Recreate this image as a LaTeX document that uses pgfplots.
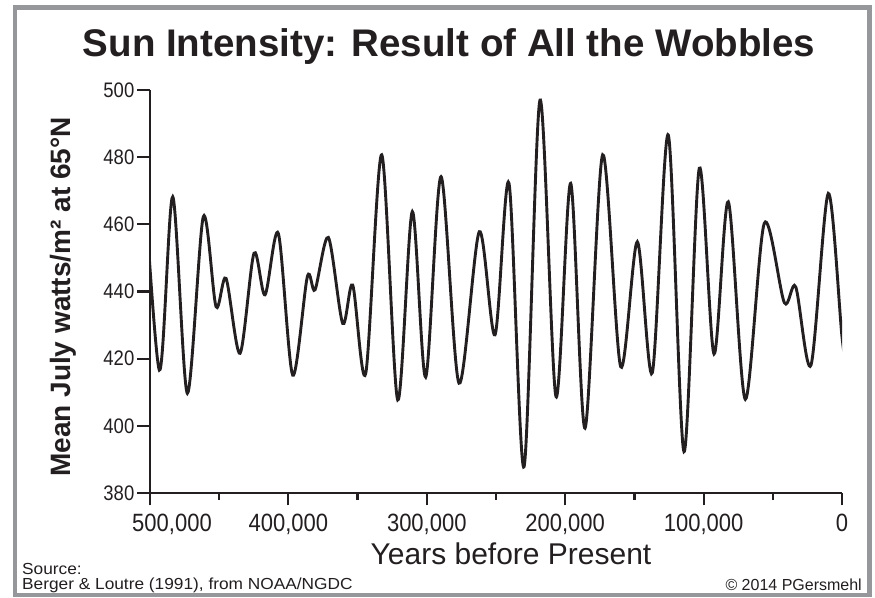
\documentclass[border=0pt]{standalone}
\usepackage{pgfplots}
\pgfplotsset{compat=1.18}
\usepackage{fontspec}
\setmainfont{Liberation Sans}
\newfontfamily\ticknarrow[FakeStretch=0.88]{Liberation Sans}
\newfontfamily\srcwide[FakeStretch=1.08]{Liberation Sans}
\definecolor{framegray}{RGB}{150,151,155}
\definecolor{ink}{RGB}{35,31,32}
\begin{document}
\begin{tikzpicture}[x=1bp,y=1bp]
\useasboundingbox (0,0) rectangle (875,598);
\fill[white] (0,0) rectangle (875,598);
\draw[framegray, line width=4.6bp] (15,590.5) rectangle (869.5,3);
\begin{axis}[
  at={(150bp,105bp)}, anchor=south west,
  scale only axis, width=692bp, height=403bp,
  xmin=0, xmax=500000, x dir=reverse,
  ymin=380, ymax=500,
  axis x line*=bottom, axis y line*=left,
  axis line style={ink, line width=2.4bp, -},
  xtick={0,100000,200000,300000,400000,500000},
  xticklabels={0,{100,000},{200,000},{300,000},{400,000},{\hspace*{44bp}500,000}},
  minor xtick={50000,150000,250000,350000,450000},
  ytick={380,400,420,440,460,480,500},
  yticklabels={380,400,420,440,460,480,500},
  tick align=outside,
  major tick length=12.5bp, minor tick length=7bp,
  every tick/.style={ink, line width=2.2bp},
  scaled x ticks=false,
  xticklabel style={font=\ticknarrow\fontsize{25bp}{25bp}\selectfont, text=ink, inner sep=0pt, yshift=-8bp},
  yticklabel style={font=\ticknarrow\fontsize{21bp}{21bp}\selectfont, text=ink, inner sep=0pt, xshift=-3bp},
]
\addplot[ink, line width=2.9bp, smooth] coordinates {
(506000,485)
(493250,416.6)
(483560,468.2)
(473000,409.7)
(461450,462.3)
(452300,435.5)
(445060,443.9)
(434950,421.6)
(424830,451.4)
(416880,439.0)
(407270,457.3)
(396870,415.1)
(386310,444.4)
(380760,440.5)
(371130,456.1)
(360750,430.5)
(353520,441.9)
(344130,415.6)
(332570,480.7)
(321010,407.7)
(310460,463.8)
(300790,414.5)
(289720,474.2)
(276720,412.7)
(262050,457.8)
(250710,427.1)
(240590,472.2)
(229760,387.8)
(218200,497.0)
(206640,408.7)
(196040,472.2)
(185680,399.3)
(172930,480.7)
(159890,417.6)
(147890,454.8)
(137060,415.8)
(125500,486.6)
(114160,392.3)
(103100,476.7)
(92480,421.4)
(82150,466.7)
(69860,407.9)
(56140,460.3)
(41690,436.7)
(33450,441.4)
(22400,418.1)
(9900,469.2)
(0,426.5)
(-4000,415)
};
\end{axis}
\node[anchor=base, font=\bfseries\fontsize{38.5bp}{38.5bp}\selectfont, text=ink] at (449,541) {Sun Intensity: Result of All the Wobbles};
\node[anchor=base, rotate=90, font=\bfseries\fontsize{28bp}{28bp}\selectfont, text=ink] at (70,301) {Mean July watts/m² at 65°N};
\node[anchor=base, font=\fontsize{30bp}{30bp}\selectfont, text=ink] at (511,33) {Years before Present};
\node[anchor=base west, inner sep=0pt, font=\srcwide\fontsize{16bp}{16bp}\selectfont, text=ink] at (22,23) {Source:};
\node[anchor=base west, inner sep=0pt, font=\srcwide\fontsize{16bp}{16bp}\selectfont, text=ink] at (22,8.5) {Berger \& Loutre (1991), from NOAA/NGDC};
\node[anchor=base east, inner sep=0pt, font=\fontsize{16bp}{16bp}\selectfont, text=ink] at (862,7) {© 2014 PGersmehl};
\end{tikzpicture}
\end{document}
